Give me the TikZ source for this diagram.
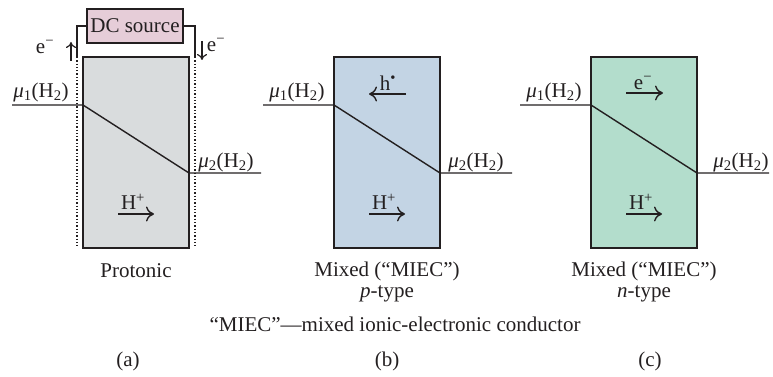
\documentclass[tikz,border=0pt]{standalone}
\usepackage{fontspec}
\setmainfont{Liberation Serif}
\usetikzlibrary{arrows.meta}
\definecolor{ink}{HTML}{231F20}
\definecolor{grayA}{HTML}{D9DCDD}
\definecolor{blueB}{HTML}{C3D4E4}
\definecolor{greenC}{HTML}{B3DDCC}
\definecolor{pinkDC}{HTML}{E6CDD8}
\begin{document}
\begin{tikzpicture}[x=1pt,y=-1pt,every node/.style={font=\fontsize{21}{25}\selectfont,text=ink,inner sep=0pt},
  cell/.style={draw=ink,line width=2.8pt,minimum width=106pt,minimum height=191pt},
  src/.style={draw=ink,line width=2.8pt,fill=pinkDC,minimum width=96pt,minimum height=34pt},
  wire/.style={ink,line width=2.6pt},
  prof/.style={ink,line width=1.4pt},
  flow/.style={ink,line width=1.4pt,-{Computer Modern Rightarrow[length=8pt,width=15pt]}},
  eflow/.style={ink,line width=1.2pt,-{Computer Modern Rightarrow[length=6pt,width=10pt]}}]
\useasboundingbox (0,0) rectangle (773,377);
% the three conductors
\node[cell,fill=grayA] (A) at (136,152.5) {};
\node[cell,fill=blueB] (B) at (387,152.5) {};
\node[cell,fill=greenC] (C) at (644,152.5) {};
% DC source with its leads (a)
\node[src] (dc) at (135,26) {DC source};
\coordinate (wl) at (77,57); \coordinate (wr) at (195,57);
\draw[wire] (dc.west) -| (wl); \draw[wire] (dc.east) -| (wr);
\draw[ink,dotted,line width=1.3pt] (wl) -- (77,248);
\draw[ink,dotted,line width=1.3pt] (wr) -- (195,248);
\node (el) at (45,47) {e\textsuperscript{−}};
\draw[eflow] (71,61) -- (71,42);
\node (er) at (216,45) {e\textsuperscript{−}};
\draw[eflow] (202,41) -- (202,60);
% chemical potential profiles
\draw[prof] (12,105) -- (83,105) -- (189,173) -- (261,173);
\draw[prof] (263,105) -- (334,105) -- (440,173) -- (512,173);
\draw[prof] (520,105) -- (591,105) -- (697,173) -- (769,173);
\node (m1a) at (41,92) {{\itshape μ}\textsubscript{1}(H\textsubscript{2})};
\node (m2a) at (226,162) {{\itshape μ}\textsubscript{2}(H\textsubscript{2})};
\node (m1b) at (297,92) {{\itshape μ}\textsubscript{1}(H\textsubscript{2})};
\node (m2b) at (476,162) {{\itshape μ}\textsubscript{2}(H\textsubscript{2})};
\node (m1c) at (554,92) {{\itshape μ}\textsubscript{1}(H\textsubscript{2})};
\node (m2c) at (741,162) {{\itshape μ}\textsubscript{2}(H\textsubscript{2})};
% carriers
\node (hb) at (388,83) {h\textsuperscript{•}};
\draw[flow] (406,94) -- (369,94);
\node (ec) at (643,83) {e\textsuperscript{−}};
\draw[flow] (626,93) -- (663,93);
\node (pa) at (133,202) {H\textsuperscript{+}};
\draw[flow] (118,214) -- (154,214);
\node (pb) at (384,202) {H\textsuperscript{+}};
\draw[flow] (369,214) -- (405,214);
\node (pc) at (641,202) {H\textsuperscript{+}};
\draw[flow] (626,214) -- (662,214);
% captions
\node (ta) at (136,271) {Protonic};
\node (tb) at (387,271) {Mixed (“MIEC”)};
\node (tc) at (644,271) {Mixed (“MIEC”)};
\node (sb) at (387,294) {\textit{p}-type};
\node (sc) at (644,294) {\textit{n}-type};
\node (key) at (395,324) {“MIEC”—mixed ionic-electronic conductor};
\node (la) at (128,361) {(a)};
\node (lb) at (387,361) {(b)};
\node (lc) at (650,361) {(c)};
\end{tikzpicture}
\end{document}
